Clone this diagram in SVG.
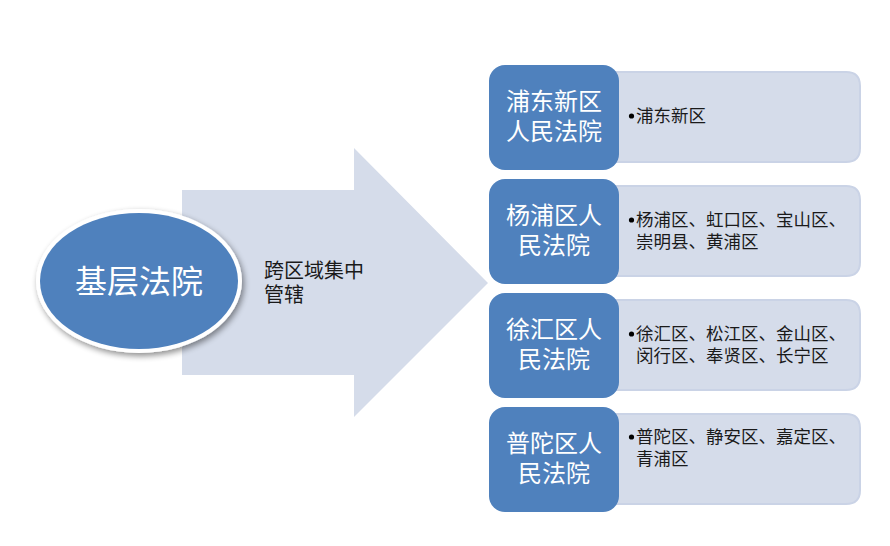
<svg xmlns="http://www.w3.org/2000/svg" width="890" height="546" viewBox="0 0 890 546">
<defs>
<filter id="sh" x="-20%" y="-20%" width="140%" height="140%">
<feGaussianBlur in="SourceAlpha" stdDeviation="3"/>
<feOffset dx="2" dy="3" result="b"/>
<feComponentTransfer><feFuncA type="linear" slope="0.45"/></feComponentTransfer>
<feMerge><feMergeNode/><feMergeNode in="SourceGraphic"/></feMerge>
</filter>
<style>
.blue{fill:#4F81BD;}
.light{fill:#D5DCEA;stroke:#CAD3E6;stroke-width:2;}
.bt{font-family:"Liberation Serif","Noto Sans CJK SC",serif;font-size:24px;fill:#FFFFFF;text-anchor:middle;}
.lt{font-family:"Liberation Serif","Noto Sans CJK SC",serif;font-size:17.5px;fill:#1a1a1a;}
.dot{fill:#000000;}
</style>
</defs>
<rect width="890" height="546" fill="#FFFFFF"/>
<g id="arrow">
<polygon points="182,190 354,190 354,148 488,283 354,417 354,375 182,375" fill="#D5DCEA"/>
<text x="264" y="278" class="lt" style="font-size:20px">跨区域集中</text>
<text x="264" y="302" class="lt" style="font-size:20px">管辖</text>
</g>
<g id="root">
<ellipse cx="139" cy="281" rx="103" ry="72" fill="#FFFFFF" filter="url(#sh)"/>
<ellipse cx="139" cy="281" rx="99" ry="68" class="blue"/>
<text x="139" y="293" class="bt" style="font-size:32px">基层法院</text>
</g>
<g id="connectors"></g>
<g id="n1">
<path d="M605,72 H846 Q860,72 860,86 V148 Q860,162 846,162 H605 Z" class="light"/>
<rect x="489" y="65" width="130" height="105" rx="16" class="blue"/>
<text x="554" y="110" class="bt">浦东新区</text>
<text x="554" y="140" class="bt">人民法院</text>
<circle cx="631.5" cy="116" r="2.6" class="dot"/>
<text x="636" y="122" class="lt">浦东新区</text>
</g>
<g id="n2">
<path d="M605,186 H846 Q860,186 860,200 V262 Q860,276 846,276 H605 Z" class="light"/>
<rect x="489" y="179" width="130" height="105" rx="16" class="blue"/>
<text x="554" y="224" class="bt">杨浦区人</text>
<text x="554" y="254" class="bt">民法院</text>
<circle cx="631.5" cy="220" r="2.6" class="dot"/>
<text x="636" y="226" class="lt">杨浦区、虹口区、宝山区、</text>
<text x="636" y="248" class="lt">崇明县、黄浦区</text>
</g>
<g id="n3">
<path d="M605,300 H846 Q860,300 860,314 V376 Q860,390 846,390 H605 Z" class="light"/>
<rect x="489" y="293" width="130" height="105" rx="16" class="blue"/>
<text x="554" y="338" class="bt">徐汇区人</text>
<text x="554" y="368" class="bt">民法院</text>
<circle cx="631.5" cy="334" r="2.6" class="dot"/>
<text x="636" y="340" class="lt">徐汇区、松江区、金山区、</text>
<text x="636" y="362" class="lt">闵行区、奉贤区、长宁区</text>
</g>
<g id="n4">
<path d="M605,414 H846 Q860,414 860,428 V490 Q860,504 846,504 H605 Z" class="light"/>
<rect x="489" y="407" width="130" height="105" rx="16" class="blue"/>
<text x="554" y="452" class="bt">普陀区人</text>
<text x="554" y="482" class="bt">民法院</text>
<circle cx="631.5" cy="437" r="2.6" class="dot"/>
<text x="636" y="443" class="lt">普陀区、静安区、嘉定区、</text>
<text x="636" y="465" class="lt">青浦区</text>
</g>
</svg>
